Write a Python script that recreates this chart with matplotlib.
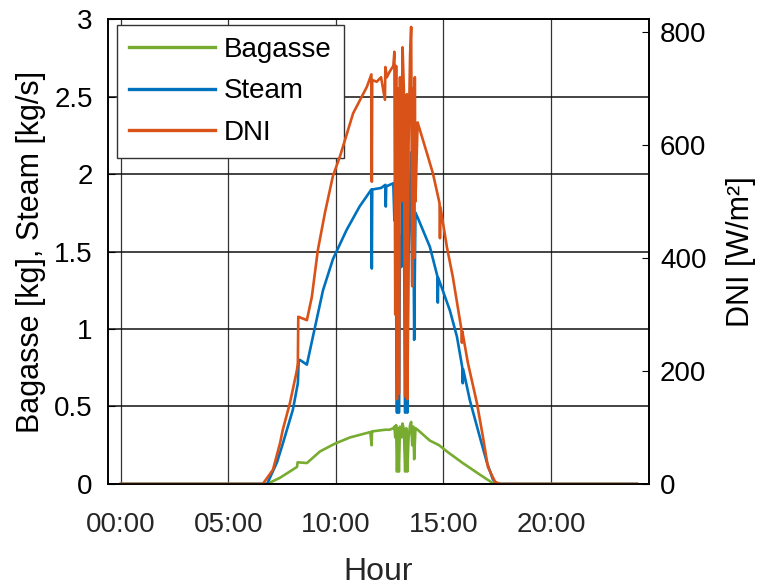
import matplotlib
matplotlib.use("Agg")
from matplotlib import pyplot as plt


# Values (hours, value)
BAGASSE_T = [0, 6.8, 7.4, 8.19, 8.22, 8.65, 9.26, 9.95, 10.65, 11.6, 11.66, 11.68, 11.72,
             12.3, 12.5, 12.67, 12.72, 12.76, 12.80, 12.84, 12.88, 12.93, 12.98, 13.04,
             13.10, 13.16, 13.22, 13.27, 13.32, 13.38, 13.45, 13.50, 13.55, 13.60, 13.64,
             13.70, 13.80, 14.37, 14.8, 15.16, 15.9, 16.7, 17.3, 17.63, 24]
BAGASSE = [0, 0, 0.04, 0.11, 0.14, 0.135, 0.21, 0.26, 0.30, 0.335, 0.25, 0.34, 0.34,
           0.35, 0.35, 0.36, 0.37, 0.30, 0.38, 0.08, 0.36, 0.08, 0.37, 0.30,
           0.39, 0.35, 0.08, 0.36, 0.08, 0.30, 0.38, 0.40, 0.25, 0.37, 0.16,
           0.36, 0.35, 0.28, 0.25, 0.21, 0.135, 0.06, 0.005, 0, 0]

STEAM_T = [0, 6.8, 7.26, 7.53, 8.0, 8.23, 8.27, 8.33, 8.65, 8.93, 9.4, 9.86, 10.5, 11.1,
           11.65, 11.67, 11.69, 12.1, 12.3, 12.32, 12.34, 12.5, 12.67, 12.72, 12.76, 12.80,
           12.84, 12.86, 12.88, 12.91, 12.93, 12.98, 13.04, 13.10, 13.16, 13.22, 13.25,
           13.27, 13.30, 13.32, 13.38, 13.45, 13.50, 13.55, 13.60, 13.64, 13.70, 13.80,
           14.37, 14.72, 14.74, 14.76, 15.3, 15.63, 15.88, 15.9, 15.92, 16.23, 16.7,
           17.02, 17.3, 17.5, 24]
STEAM = [0, 0, 0.14, 0.26, 0.48, 0.65, 0.80, 0.80, 0.77, 0.95, 1.25, 1.45, 1.64, 1.79,
         1.90, 1.39, 1.90, 1.91, 1.93, 1.79, 1.92, 1.93, 1.94, 1.70, 1.96, 1.20,
         0.46, 1.50, 0.50, 1.70, 0.46, 1.60, 1.40, 2.05, 1.80, 0.46, 1.40,
         0.50, 1.60, 0.46, 1.50, 1.90, 2.14, 1.30, 1.80, 0.93, 1.75, 1.72,
         1.53, 1.34, 1.17, 1.33, 1.12, 0.95, 0.75, 0.65, 0.74, 0.54, 0.30,
         0.14, 0.03, 0, 0]

DNI_T = [0, 6.6, 7.07, 7.4, 7.53, 7.86, 8.19, 8.23, 8.25, 8.65, 8.88, 9.16, 9.49, 9.86,
         10.19, 10.8, 11.44, 11.65, 11.67, 11.69, 11.9, 12.1, 12.28, 12.3, 12.37, 12.5,
         12.67, 12.72, 12.76, 12.80, 12.84, 12.86, 12.88, 12.91, 12.93, 12.98, 13.04,
         13.10, 13.16, 13.22, 13.25, 13.27, 13.30, 13.32, 13.38, 13.45, 13.50, 13.55,
         13.60, 13.64, 13.67, 13.70, 13.80, 14.23, 14.51, 14.82, 14.84, 14.86, 15.16,
         15.44, 15.84, 15.86, 15.88, 16.14, 16.56, 16.84, 17.07, 17.4, 17.63, 24]
DNI = [0, 0, 25, 72, 96, 143, 202, 214, 296, 290, 331, 414, 480, 545,
       580, 656, 703, 725, 535, 715, 712, 720, 680, 738, 720, 730,
       740, 765, 300, 740, 150, 620, 250, 700, 160, 720, 500,
       773, 700, 155, 650, 170, 690, 150, 600, 760, 809, 350,
       700, 400, 720, 500, 640, 586, 550, 497, 435, 490, 420,
       366, 273, 250, 270, 214, 143, 83, 30, 4, 0, 0]

X_TICKS = [0, 5, 10, 15, 20]
X_LABELS = ["00:00", "05:00", "10:00", "15:00", "20:00"]
LEFT_TICKS = [0, 0.5, 1, 1.5, 2, 2.5, 3]
LEFT_LABELS = ["0", "0.5", "1", "1.5", "2", "2.5", "3"]
RIGHT_TICKS = [0, 200, 400, 600, 800]

GREEN = "#77AC30"
BLUE = "#0072BD"
ORANGE = "#D95319"
GREY = "#262626"

plt.rcParams["font.family"] = ["Liberation Sans", "DejaVu Sans"]

fig = plt.figure(figsize=(7.6, 5.87), dpi=100)
ax = fig.add_axes([0.1421, 0.1755, 0.7118, 0.7921])
ax2 = ax.twinx()

# left axis: bagasse and steam
l1, = ax.plot(BAGASSE_T, BAGASSE, color=GREEN, lw=1.9, label="Bagasse")
l2, = ax.plot(STEAM_T, STEAM, color=BLUE, lw=1.9, label="Steam")
# right axis: DNI
l3, = ax2.plot(DNI_T, DNI, color=ORANGE, lw=1.9, label="DNI")

ax.set_xlim(-0.6, 24.56)
ax.set_ylim(0, 3)
ax2.set_ylim(0, 823)

ax.set_xticks(X_TICKS)
ax.set_xticklabels(X_LABELS)
ax.set_yticks(LEFT_TICKS)
ax.set_yticklabels(LEFT_LABELS)
ax2.set_yticks(RIGHT_TICKS)

ax.grid(True, axis="y", color="#111111", lw=1.1)
ax.grid(True, axis="x", color="#333333", lw=0.9)
ax.set_axisbelow(True)

ax.tick_params(axis="x", direction="in", length=0, labelsize=20, colors=GREY, pad=20)
ax.tick_params(axis="y", direction="in", length=5, labelsize=20, colors="black", pad=11)
ax2.tick_params(axis="y", direction="in", length=5, labelsize=20, colors="black", pad=8)

for a in (ax, ax2):
    for s in a.spines.values():
        s.set_color("black")
        s.set_linewidth(1.2)

ax.set_xlabel("Hour", fontsize=23, color=GREY, labelpad=14)
ax.set_ylabel("Bagasse [kg], Steam [kg/s]", fontsize=22, color="black", labelpad=6)
ax2.set_ylabel("DNI [W/m²]", fontsize=22, color="black", labelpad=14)

leg = ax.legend(handles=[l1, l2, l3], loc="upper left", fontsize=20,
                bbox_to_anchor=(0.016, 0.988), fancybox=False, framealpha=1,
                edgecolor="#333333", handlelength=3.1, handletextpad=0.3,
                labelspacing=0.55, borderpad=0.45, borderaxespad=0)
leg.get_frame().set_linewidth(1.0)
for h in leg.get_lines():
    h.set_linewidth(2.4)

fig.savefig("out.png", dpi=100)
